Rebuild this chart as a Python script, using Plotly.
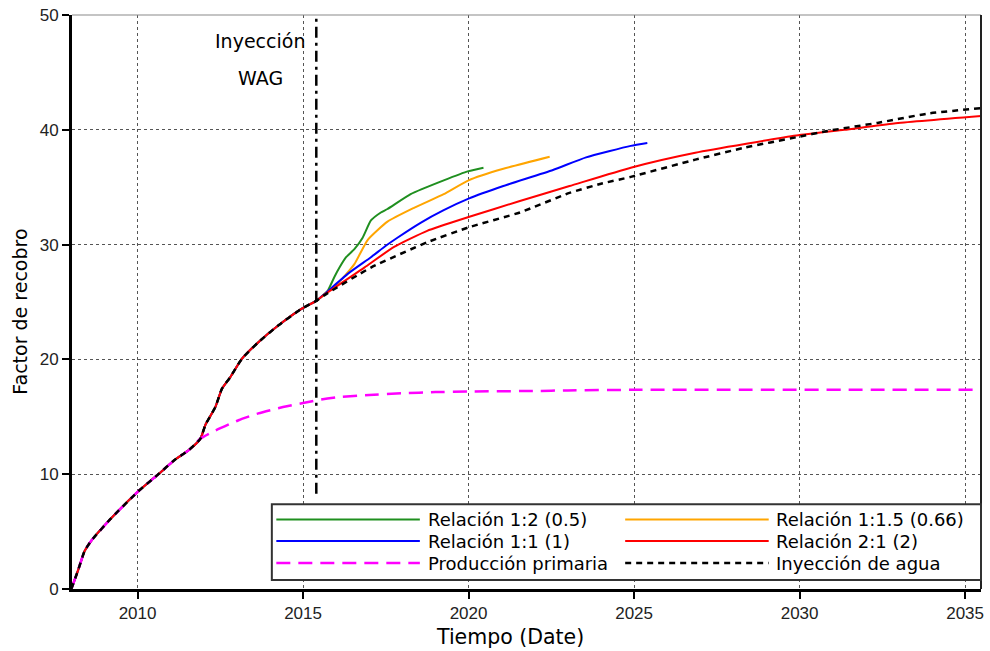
import plotly.graph_objects as go

# ---------------- data ----------------
# shared history (all cases identical until WAG injection)
hist_years = [2008.0, 2008.2, 2008.4, 2008.6, 2009.2, 2010.0, 2010.65, 2011.1, 2011.55, 2011.9,
              2012.05, 2012.35, 2012.55, 2012.8, 2013.15, 2013.65, 2014.25, 2014.95, 2015.4]
hist_values = [0.0, 1.6, 3.3, 4.2, 6.15, 8.45, 10.05, 11.2, 12.1, 13.1,
               14.3, 15.85, 17.45, 18.45, 20.05, 21.5, 22.95, 24.4, 25.1]

# primary production branches off the history here
primary_split_year = 2011.9
primary_years = [2012.35, 2013.05, 2013.65, 2014.25, 2015.0, 2015.55, 2016.05, 2017.0, 2018.0,
                 2019.0, 2020.0, 2022.0, 2023.0, 2025.0, 2035.5]
primary_values = [13.8, 14.7, 15.3, 15.75, 16.2, 16.5, 16.7, 16.9, 17.05,
                  17.15, 17.2, 17.25, 17.3, 17.35, 17.35]

# forecasts after the start of injection
wag_05_years = [2015.65, 2015.75, 2015.95, 2016.1, 2016.3, 2016.55, 2016.8, 2017.05, 2017.35,
                2017.55, 2018.25, 2019.25, 2020.0, 2020.45]
wag_05_values = [25.7, 26.0, 27.2, 28.0, 28.9, 29.6, 30.6, 32.1, 32.8,
                 33.1, 34.4, 35.6, 36.4, 36.7]

wag_066_years = [2015.65, 2016.05, 2016.55, 2016.95, 2017.55, 2018.35, 2019.25, 2020.0, 2021.05, 2022.45]
wag_066_values = [25.7, 26.6, 28.3, 30.4, 32.0, 33.2, 34.4, 35.6, 36.6, 37.65]

wag_1_years = [2015.65, 2016.35, 2017.05, 2017.5, 2017.85, 2018.55, 2019.25, 2020.0, 2021.05,
               2022.55, 2023.55, 2024.9, 2025.4]
wag_1_values = [25.7, 27.45, 28.9, 29.9, 30.6, 31.9, 33.0, 34.0, 35.1,
                36.5, 37.6, 38.6, 38.85]

wag_2_years = [2015.65, 2016.85, 2017.75, 2018.75, 2020.0, 2021.55, 2023.05, 2024.9, 2026.85,
               2029.9, 2031.35, 2032.85, 2035.5]
wag_2_values = [25.65, 28.0, 29.8, 31.2, 32.4, 33.8, 35.1, 36.7, 38.0,
                39.5, 40.0, 40.55, 41.2]

water_years = [2015.65, 2017.05, 2018.75, 2020.0, 2021.55, 2023.05, 2024.0, 2024.9, 2026.85,
               2028.35, 2029.9, 2030.85, 2032.35, 2033.85, 2035.5]
water_values = [25.6, 28.0, 30.2, 31.5, 32.8, 34.5, 35.3, 35.9, 37.4,
                38.45, 39.35, 39.9, 40.6, 41.4, 41.9]

wag_start_year = 2015.4
wag_marker_range = [8.3, 50.0]

x_tick_values = [2010, 2015, 2020, 2025, 2030, 2035]
x_tick_labels = ["2010", "2015", "2020", "2025", "2030", "2035"]
y_tick_values = [0, 10, 20, 30, 40, 50]
y_tick_labels = ["0", "10", "20", "30", "40", "50"]

x_title = "Tiempo (Date)"
y_title = "Factor de recobro"

# ---------------- styles ----------------
styles = {
    "Relación 1:2 (0.5)": dict(color="#1f8f1f", width=2, dash="solid"),
    "Relación 1:1.5 (0.66)": dict(color="#FFA500", width=2, dash="solid"),
    "Relación 1:1 (1)": dict(color="#0000FF", width=2, dash="solid"),
    "Relación 2:1 (2)": dict(color="#FF0000", width=2, dash="solid"),
    "Producción primaria": dict(color="#FF00FF", width=2.5, dash="14px,8px"),
    "Inyección de agua": dict(color="#000000", width=2.5, dash="6px,5px"),
}

primary_hist_x = [y for y in hist_years if y <= primary_split_year]
primary_hist_y = [v for y, v in zip(hist_years, hist_values) if y <= primary_split_year]

series = [
    ("Relación 1:2 (0.5)", hist_years + wag_05_years, hist_values + wag_05_values),
    ("Relación 1:1.5 (0.66)", hist_years + wag_066_years, hist_values + wag_066_values),
    ("Relación 1:1 (1)", hist_years + wag_1_years, hist_values + wag_1_values),
    ("Relación 2:1 (2)", hist_years + wag_2_years, hist_values + wag_2_values),
    ("Producción primaria", primary_hist_x + primary_years, primary_hist_y + primary_values),
    ("Inyección de agua", hist_years + water_years, hist_values + water_values),
]

fig = go.Figure()
for name, xs, ys in series:
    line = dict(styles[name])
    line.update(shape="spline", smoothing=0.5)
    fig.add_trace(go.Scatter(x=xs, y=ys, mode="lines", name=name,
                             line=line, showlegend=False))

# WAG injection start marker
fig.add_trace(go.Scatter(x=[wag_start_year, wag_start_year], y=wag_marker_range, mode="lines",
                         line=dict(color="black", width=2.5, dash="11px,5px,3px,5px"),
                         showlegend=False, hoverinfo="skip"))

L, R, T, B = 72, 6, 14, 62
W, H = 990, 651
pw, ph = W - L - R, H - T - B


def px(xp):
    return (xp - L) / pw


def py(yp):
    return (H - B - yp) / ph


shapes = [
    # top (thin gray) and right borders
    dict(type="line", xref="paper", yref="paper", x0=0, x1=1, y0=1, y1=1,
         line=dict(color="#8a8a8a", width=1.2), layer="above"),
    dict(type="line", xref="paper", yref="paper", x0=1, x1=1, y0=0, y1=1,
         line=dict(color="#222", width=2), layer="above"),
    # legend box
    dict(type="rect", xref="paper", yref="paper", x0=px(272.5), x1=px(984), y0=py(580), y1=py(504),
         fillcolor="white", line=dict(color="#333", width=2), layer="above"),
]

legend_layout = [
    ("Relación 1:2 (0.5)", 0, 0), ("Relación 1:1.5 (0.66)", 1, 0),
    ("Relación 1:1 (1)", 0, 1), ("Relación 2:1 (2)", 1, 1),
    ("Producción primaria", 0, 2), ("Inyección de agua", 1, 2),
]
col_line = [(277, 421), (627, 771)]
col_text = [427, 776]
row_y = [519.5, 541, 563]

annotations = []
for name, c, r in legend_layout:
    st = styles[name]
    shapes.append(dict(type="line", xref="paper", yref="paper",
                       x0=px(col_line[c][0]), x1=px(col_line[c][1]),
                       y0=py(row_y[r]), y1=py(row_y[r]),
                       line=dict(color=st["color"], width=st["width"], dash=st["dash"]),
                       layer="above"))
    annotations.append(dict(xref="paper", yref="paper", x=px(col_text[c]), y=py(row_y[r]),
                            text=name, showarrow=False, xanchor="left", yanchor="middle",
                            font=dict(family="DejaVu Sans", size=18, color="black")))

annotations += [
    dict(x=2013.71, y=47.7, text="Inyección", showarrow=False, xanchor="center", yanchor="middle",
         font=dict(family="DejaVu Sans", size=19, color="black")),
    dict(x=2013.71, y=44.5, text="WAG", showarrow=False, xanchor="center", yanchor="middle",
         font=dict(family="DejaVu Sans", size=19, color="black")),
    # axis titles
    dict(xref="paper", yref="paper", x=px(511), y=py(637), text=x_title, showarrow=False,
         xanchor="center", yanchor="middle",
         font=dict(family="DejaVu Sans", size=20.5, color="black")),
    dict(xref="paper", yref="paper", x=px(20), y=py(311), text=y_title, showarrow=False,
         xanchor="center", yanchor="middle", textangle=-90,
         font=dict(family="DejaVu Sans", size=19, color="black")),
]

axis_common = dict(
    showgrid=True, gridcolor="#555", griddash="dot", gridwidth=1,
    showline=True, linecolor="black", linewidth=3,
    ticks="outside", ticklen=7, tickwidth=2, tickcolor="black",
    tickfont=dict(family="Liberation Sans", size=17, color="#222"),
    zeroline=False, mirror=False,
)

fig.update_layout(
    width=W, height=H,
    margin=dict(l=L, r=R, t=T, b=B),
    paper_bgcolor="white", plot_bgcolor="white",
    showlegend=False,
    shapes=shapes,
    annotations=annotations,
    xaxis=dict(range=[2008.02, 2035.48], tickvals=x_tick_values, ticktext=x_tick_labels,
               **axis_common),
    yaxis=dict(range=[0, 50], tickvals=y_tick_values, ticktext=y_tick_labels,
               **axis_common),
)

fig.write_html("out.html", config={"displayModeBar": False},
               post_script="document.body.style.margin='0px';document.body.style.padding='0px';")
